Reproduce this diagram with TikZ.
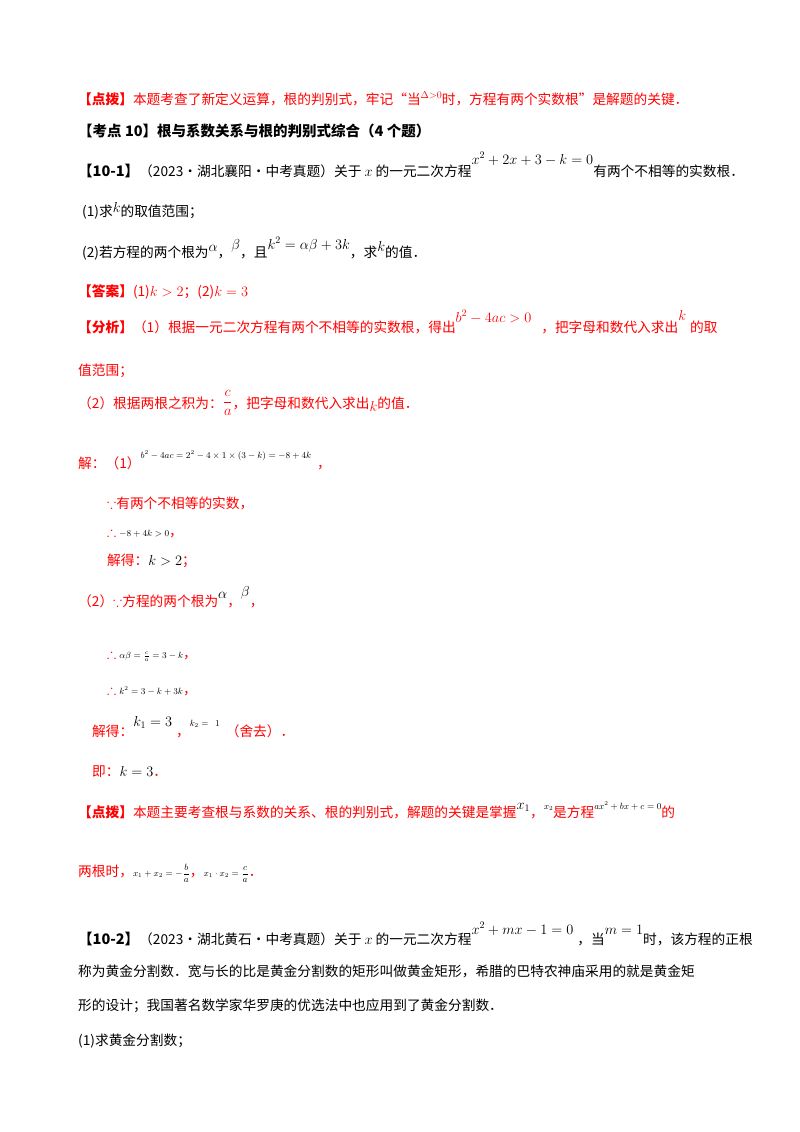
\documentclass[tikz,border=0pt]{standalone}
\usepackage{amsmath,amssymb}
\usepackage{fontspec}
\setmainfont{Noto Sans CJK SC}
\begin{document}
\begin{tikzpicture}[x=1pt,y=-1pt,
 txt/.style={anchor=base west,inner sep=0pt,font=\fontsize{13.7}{15}\selectfont},
 rtxt/.style={txt,text=red},
 hd/.style={txt,font=\fontsize{14.5}{16}\bfseries\selectfont}]
\newcommand{\up}[2][6pt]{\raisebox{#1}{$#2$}}
\newcommand{\sm}[1]{{\color{black}\small$#1$}}
\useasboundingbox[fill=white] (0,0) rectangle (800,1132);
\node[rtxt] (l1) at (78,104) {\textbf{【点拨】}本题考查了新定义运算，根的判别式，牢记“当\up{\scriptstyle\Delta>0}时，方程有两个实数根”是解题的关键．};
\node[hd] (l2) at (78,136) {【考点 10】根与系数关系与根的判别式综合（4 个题）};
\node[txt] (l3) at (78,176) {\textbf{\fontsize{14.5}{16}\selectfont【10-1】}（2023·湖北襄阳·中考真题）关于 $x$ 的一元二次方程\up[12pt]{x^2+2x+3-k=0}有两个不相等的实数根．};
\node[txt] (l4) at (82,216) {(1)求\up[4pt]{k}的取值范围；};
\node[txt] (l5) at (82,257) {(2)若方程的两个根为\up[6pt]{\alpha}，\up[8pt]{\beta}，且\up[8pt]{k^2=\alpha\beta+3k}，求\up[6pt]{k}的值．};
\node[rtxt] (l6) at (78,296) {\textbf{【答案】}(1)$k>2$；(2)$k=3$};
\node[rtxt] (l7) at (78,332) {\textbf{【分析】}（1）根据一元二次方程有两个不相等的实数根，得出\up[10pt]{b^2-4ac>0}\hspace{10pt}，把字母和数代入求出\up[12pt]{k}\hspace{4pt}的取};
\node[rtxt] (l8) at (78,375) {值范围；};
\node[rtxt] (l9) at (78,408) {（2）根据两根之积为：\up[2pt]{\dfrac{c}{a}}，把字母和数代入求出\raisebox{-3pt}{$k$}的值．};
\node[rtxt] (l10) at (78,468) {解：（1）\raisebox{10pt}{\sm{b^2-4ac=2^2-4\times1\times(3-k)=-8+4k}}\hspace{6pt}，};
\node[rtxt] (l11) at (107,508) {$\because$有两个不相等的实数，};
\node[rtxt] (l12) at (107,536) {$\therefore$ \sm{-8+4k>0}，};
\node[rtxt] (l13) at (107,565) {解得：{\color{black}$k>2$}；};
\node[rtxt] (l14) at (78,606) {（2）$\because$方程的两个根为\up[8pt]{\color{black}\alpha}，\up[10pt]{\color{black}\beta}，};
\node[rtxt] (l15) at (107,658) {$\therefore$ \sm{\alpha\beta=\frac{c}{a}=3-k}，};
\node[rtxt] (l16) at (107,694) {$\therefore$ \sm{k^2=3-k+3k}，};
\node[rtxt] (l17) at (92,736) {解得：\up[10pt]{\color{black}k_1=3}\hspace{4pt}，\raisebox{10pt}{\sm{k_2=\ \ 1}}\hspace{6pt}（舍去）．};
\node[rtxt] (l18) at (92,776) {即：{\color{black}$k=3$}．};
\node[rtxt] (l19) at (78,817) {\textbf{【点拨】}本题主要考查根与系数的关系、根的判别式，解题的关键是掌握\up[8pt]{\color{black}x_1}，\raisebox{8pt}{\sm{x_2}}是方程\raisebox{8pt}{\sm{ax^2+bx+c=0}}的};
\node[rtxt] (l20) at (78,876) {两根时，\sm{x_1+x_2=-\dfrac{b}{a}}，\sm{x_1\cdot x_2=\dfrac{c}{a}}．};
\node[txt] (l21) at (78,944) {\textbf{\fontsize{14.5}{16}\selectfont【10-2】}（2023·湖北黄石·中考真题）关于 $x$ 的一元二次方程\up[10pt]{x^2+mx-1=0}\hspace{4pt}，当\up[10pt]{m=1}时，该方程的正根};
\node[txt] (l22) at (78,976) {称为黄金分割数．宽与长的比是黄金分割数的矩形叫做黄金矩形，希腊的巴特农神庙采用的就是黄金矩};
\node[txt] (l23) at (78,1010) {形的设计；我国著名数学家华罗庚的优选法中也应用到了黄金分割数．};
\node[txt] (l24) at (78,1045) {(1)求黄金分割数；};
\end{tikzpicture}
\end{document}
